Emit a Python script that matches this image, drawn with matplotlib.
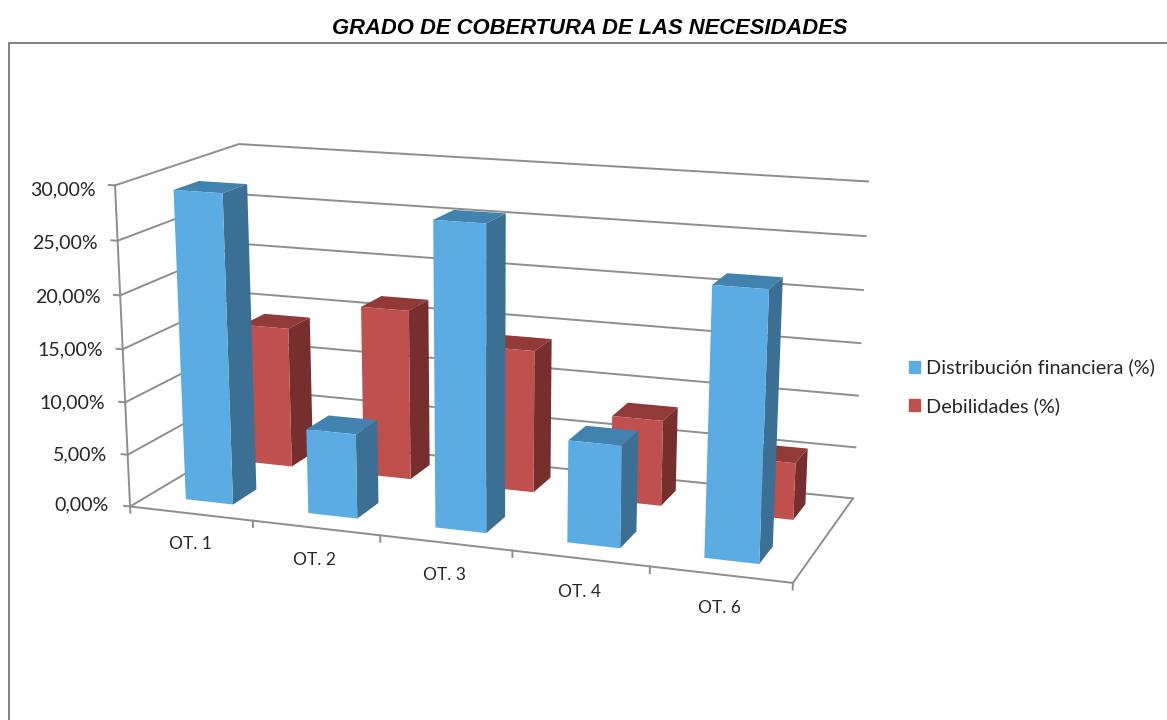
import numpy as np
import matplotlib
matplotlib.use('Agg')
import matplotlib.pyplot as plt
from matplotlib.patches import Patch
from matplotlib.lines import Line2D

W, H = 1167, 720

categories = ['OT. 1', 'OT. 2', 'OT. 3', 'OT. 4', 'OT. 6']
distribucion = [29.2, 8.0, 28.1, 9.4, 24.2]
debilidades = [13.85, 16.6, 13.75, 8.2, 5.4]
value_ticks = [0, 5, 10, 15, 20, 25, 30]
value_labels = ['0,00%', '5,00%', '10,00%', '15,00%', '20,00%', '25,00%', '30,00%']

# face colours: bottom, top, front, back, left, right (hidden ones see-through)
BLUE = ['none', '#4282AE', '#5BACE3', 'none', 'none', '#3C6F94']
RED = ['none', '#913A37', '#C0504D', 'none', 'none', '#772F2D']
GRID = '#8E8E8E'
BAR_W = 0.39
BAR_D = 0.40

# where the corners of the plot box sit in the picture: (x, y, z) -> (px, py)
corners = [
    ((0, 0, 0), (130, 504)),
    ((0, 0, 30), (115, 186)),
    ((0, 2, 30), (239, 143)),
    ((0, 2, 0), (248, 439)),
    ((5, 2, 30), (868, 182)),
    ((5, 2, 0), (853, 496)),
    ((5, 0, 0), (793, 585)),
]


def camera_from_corners(pairs):
    # least squares for the 3x4 camera matrix, last element fixed to 1
    A, b = [], []
    for (x, y, z), (u, v) in pairs:
        A.append([x, y, z, 1, 0, 0, 0, 0, -u*x, -u*y, -u*z])
        A.append([0, 0, 0, 0, x, y, z, 1, -v*x, -v*y, -v*z])
        b += [u, v]
    sol = np.linalg.lstsq(np.array(A, float), np.array(b, float), rcond=None)[0]
    return np.append(sol, 1).reshape(3, 4)


P = camera_from_corners(corners)

fig = plt.figure(figsize=(W/100, H/100), dpi=100)
# square 3d axes, wider than the figure is high
# ortho so that mplot3d doesn't clip lines by depth, get_proj is replaced anyway
ax = fig.add_axes([0, -(W-H)/2/H, 1, W/H], projection='3d', computed_zorder=False,
                  proj_type='ortho')
ax.set_axis_off()
ax.patch.set_alpha(0)


def fixed_proj():
    # picture pixels -> the 2d limits of the 3d axes
    v = ax.viewLim
    sx = (v.x1 - v.x0) / W
    sy = -(v.y1 - v.y0) / W
    off = (W - H) / 2
    T = np.array([[sx, 0, v.x0],
                  [0, sy, v.y0 + (H + off) / W * (v.y1 - v.y0)],
                  [0, 0, 1]])
    Q = T @ P
    depth = np.array([0, 0.1, 0, 0.1])
    return np.vstack([Q[0], Q[1], depth, Q[2]])


ax.get_proj = fixed_proj

# walls and floor
for t in value_ticks:
    ax.plot([0, 0, 5], [0, 2, 2], [t, t, t], color=GRID, lw=1.4, zorder=1)
    ax.plot([-0.05, 0], [0, 0], [t, t], color=GRID, lw=1.4, zorder=1)
ax.plot([0, 0], [0, 0], [0, 30], color=GRID, lw=1.4, zorder=1)
ax.plot([0, 5, 5], [0, 0, 2], [0, 0, 0], color=GRID, lw=1.4, zorder=1)
for i in range(len(categories) + 1):
    ax.plot([i, i], [0, 0], [0, -0.6], color=GRID, lw=1.4, zorder=1)

# back row first, then front row, left to right
for i, val in enumerate(debilidades):
    ax.bar3d(i + 0.5 - BAR_W/2, 1.54 - BAR_D/2, 0, BAR_W, BAR_D, val,
             color=RED, shade=False, edgecolor='none', zorder=2 + i*0.01)
for i, val in enumerate(distribucion):
    ax.bar3d(i + 0.5 - BAR_W/2, 0.5 - BAR_D/2, 0, BAR_W, BAR_D, val,
             color=BLUE, shade=False, edgecolor='none', zorder=3 + i*0.01)


def px(x, y):
    return x / W, 1 - y / H


# value labels
val_y = [505, 455, 403, 350, 297, 243, 190]
val_x = [109, 107, 105, 103, 101, 98, 96]
for lab, x, y in zip(value_labels, val_x, val_y):
    fig.text(*px(x, y), lab, ha='right', va='center', family='Lato',
             fontsize=14.1, color='#262626')

cat_pos = [(190, 544), (314, 560), (445, 575), (579, 592), (719, 608)]
for lab, (x, y) in zip(categories, cat_pos):
    fig.text(*px(x, y), lab, ha='center', va='center', family='Lato',
             fontsize=12.5, color='#262626')

fig.text(*px(590, 28), 'GRADO DE COBERTURA DE LAS NECESIDADES', ha='center', va='center',
         family='Liberation Sans', style='italic', weight='bold', fontsize=15.8)

# chart frame, open at right and bottom
fig.add_artist(Line2D([9/W, 9/W, 1], [0, 1 - 43/H, 1 - 43/H], color='#808080', lw=1.4))

handles = [Patch(color='#5BACE3'), Patch(color='#C0504D')]
fig.legend(handles, ['Distribución financiera (%)', 'Debilidades (%)'],
           loc='center left', bbox_to_anchor=(891/W, 1 - 387/H), frameon=False,
           prop={'family': 'Lato', 'size': 14.3}, handlelength=0.55, handleheight=0.55,
           handletextpad=0.3, labelspacing=1.05, labelcolor='#262626')

fig.savefig('out.png', dpi=100)
